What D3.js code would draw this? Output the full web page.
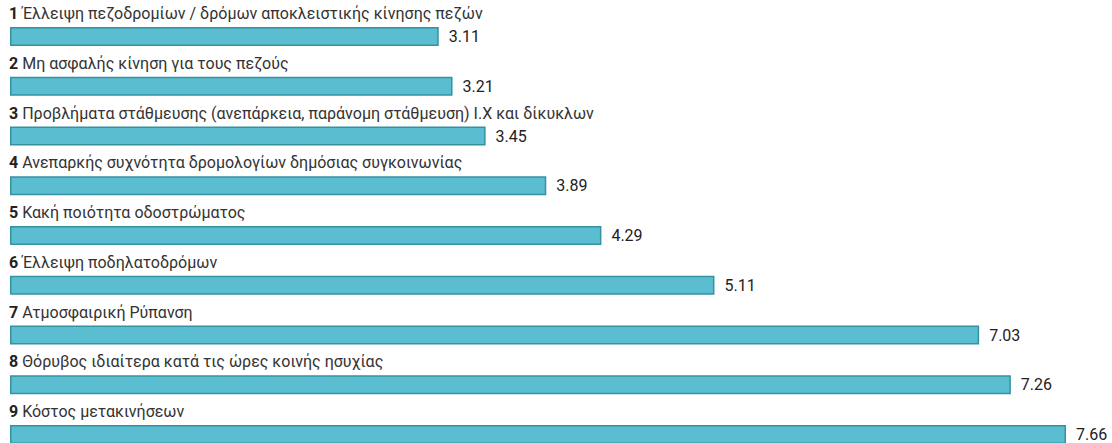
<!DOCTYPE html>
<html>
<head>
<meta charset="utf-8">
<script src="https://cdn.jsdelivr.net/npm/d3@7"></script>
<style>
  body { margin: 0; background: #fff; }
  svg { display: block; font-family: Roboto, "Noto Sans", sans-serif; }
</style>
</head>
<body>
<div class="chart"></div>
<script>
// ranked problems and their mean scores
var ranks = ["1", "2", "3", "4", "5", "6", "7", "8", "9"];
var labels = [
  "Έλλειψη πεζοδρομίων / δρόμων αποκλειστικής κίνησης πεζών",
  "Μη ασφαλής κίνηση για τους πεζούς",
  "Προβλήματα στάθμευσης (ανεπάρκεια, παράνομη στάθμευση) Ι.Χ και δίκυκλων",
  "Ανεπαρκής συχνότητα δρομολογίων δημόσιας συγκοινωνίας",
  "Κακή ποιότητα οδοστρώματος",
  "Έλλειψη ποδηλατοδρόμων",
  "Ατμοσφαιρική Ρύπανση",
  "Θόρυβος ιδιαίτερα κατά τις ώρες κοινής ησυχίας",
  "Κόστος μετακινήσεων"
];
var values = [3.11, 3.21, 3.45, 3.89, 4.29, 5.11, 7.03, 7.26, 7.66];

var width = 1112,
    height = 443,
    margin = {left: 10, top: 8};

var data = ranks.map(function(r, i) {
  return {rank: r, label: labels[i], value: values[i]};
});

var svg = d3.select(".chart").append("svg")
  .attr("width", width)
  .attr("height", height);

var x = d3.scaleLinear()
  .domain([0, d3.max(values)])
  .range([0, 1056]);

var y = d3.scaleBand()
  .domain(ranks)
  .range([margin.top, margin.top + 49.75 * ranks.length]);

var g = svg.append("g").attr("transform", "translate(" + margin.left + ",0)");

var row = g.selectAll(".row")
  .data(data)
  .enter().append("g")
    .attr("class", "row")
    .attr("transform", function(d) { return "translate(0," + y(d.rank) + ")"; });

var label = row.append("text")
  .attr("x", -1)
  .attr("y", 11)
  .style("font-size", "16px")
  .style("fill", "#333");
label.append("tspan")
  .style("font-weight", "bold")
  .style("fill", "#222")
  .text(function(d) { return d.rank + " "; });
label.append("tspan")
  .text(function(d) { return d.label; });

row.append("rect")
  .attr("x", 0.75)
  .attr("y", 19.75)
  .attr("width", function(d) { return x(d.value) - 1.5; })
  .attr("height", 17.5)
  .style("fill", "#5bbdd0")
  .style("stroke", "#3592a3")
  .style("stroke-width", 1.5);

row.append("text")
  .attr("x", function(d) { return x(d.value) + 10; })
  .attr("y", 34)
  .style("font-size", "16px")
  .style("fill", "#222")
  .text(function(d) { return d3.format(".2f")(d.value); });
</script>
</body>
</html>
